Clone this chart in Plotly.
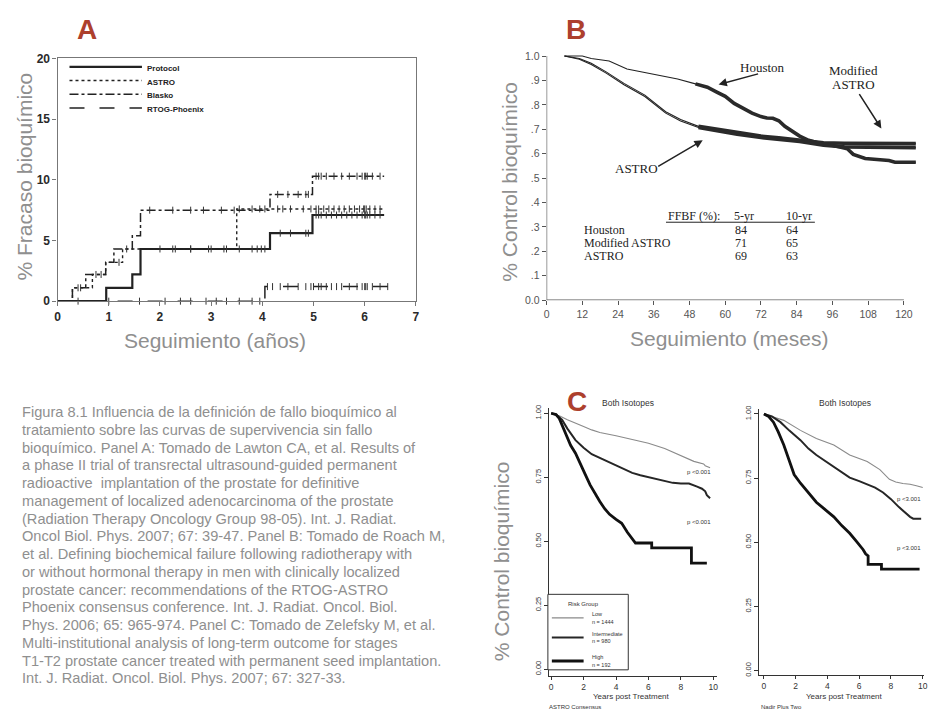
import plotly.graph_objects as go

W, H = 933, 719

def fx(p):
    return p / W

def fy(p):
    return 1 - p / H

# ---------------- Panel A data ----------------
a_protocol_x = [0, 0.95, 1.46, 1.62, 4.15, 4.98, 6.38]
a_protocol_y = [0, 1.1, 2.2, 4.3, 5.6, 7.1, 7.1]
a_astro_x = [0, 0.29, 0.68, 0.94, 1.27, 3.5, 6.38]
a_astro_y = [0, 1.1, 2.2, 3.2, 4.3, 7.6, 7.6]
a_blasko_x = [0, 0.29, 0.55, 0.94, 1.1, 1.46, 1.62, 4.15, 4.98, 6.38]
a_blasko_y = [0, 1.1, 2.2, 3.2, 4.3, 5.4, 7.5, 8.8, 10.3, 10.3]
a_rtog_x = [0, 4.05, 6.55]
a_rtog_y = [0, 1.2, 1.2]

a_protocol_cens = [2.0, 2.25, 2.6, 2.95, 3.25, 3.55, 3.8, 3.9, 3.98, 4.05, 4.35, 4.55, 4.85, 4.9,
                   5.05, 5.1, 5.15, 5.25, 5.35, 5.45, 5.55, 5.65, 5.75, 5.85, 5.95, 6.0, 6.02, 6.05, 6.1, 6.2, 6.3]
a_astro_cens = [0.4, 0.85, 1.2, 2.3, 2.6, 3.0, 3.3, 3.55, 3.8, 3.95, 4.05, 4.3, 4.4, 4.55, 4.8, 4.95,
                5.05, 5.1, 5.2, 5.3, 5.4, 5.5, 5.6, 5.7, 5.8, 5.9, 5.98, 6.0, 6.03, 6.1, 6.2, 6.3]
a_blasko_cens = [0.45, 0.75, 1.35, 1.8, 2.25, 2.6, 2.85, 3.2, 3.45, 4.3, 4.5, 4.7, 4.85, 4.9, 5.05,
                 5.1, 5.15, 5.25, 5.4, 5.55, 5.7, 5.85, 5.95, 6.0, 6.02, 6.05, 6.15, 6.3]
a_rtog_cens = [0.4, 1.0, 1.6, 2.1, 2.4, 2.6, 2.9, 3.1, 3.3, 3.55, 3.8, 3.95, 4.1, 4.2, 4.35, 4.5,
               4.7, 4.85, 4.95, 5.0, 5.1, 5.15, 5.25, 5.35, 5.45, 5.55, 5.7, 5.85, 5.95, 6.0,
               6.02, 6.05, 6.15, 6.3, 6.45]
a_legend = ["Protocol", "ASTRO", "Blasko", "RTOG-Phoenix"]
a_xticks = [0, 1, 2, 3, 4, 5, 6, 7]
a_yticks = [0, 5, 10, 15, 20]

# ---------------- Panel B data ----------------
b_houston_m = [6, 12, 15, 21, 27, 33, 36, 44, 50, 54, 57, 60, 63, 66, 69, 72, 74, 76, 78, 80,
               85, 88, 91, 96, 101, 103, 107, 112, 115, 117, 124]
b_houston_v = [1.0, 1.0, 0.99, 0.98, 0.947, 0.933, 0.926, 0.906, 0.886, 0.872, 0.853, 0.835,
               0.806, 0.785, 0.766, 0.752, 0.746, 0.745, 0.735, 0.712, 0.672, 0.655, 0.645,
               0.635, 0.62, 0.597, 0.58, 0.575, 0.572, 0.565, 0.565]
b_modastro_m = [6, 11, 15, 20, 26, 33, 40, 45, 51, 57, 64, 72, 78, 85, 93, 100, 124]
b_modastro_v = [1.0, 0.99, 0.97, 0.935, 0.888, 0.84, 0.772, 0.74, 0.712, 0.70, 0.686, 0.672,
                0.665, 0.657, 0.645, 0.643, 0.641]
b_astro_m = [6, 11, 15, 20, 26, 33, 40, 45, 51, 57, 64, 72, 78, 85, 93, 100, 124]
b_astro_v = [1.0, 0.987, 0.965, 0.93, 0.882, 0.834, 0.766, 0.734, 0.707, 0.694, 0.68, 0.666,
             0.658, 0.65, 0.635, 0.628, 0.625]
b_xticks = [0, 12, 24, 36, 48, 60, 72, 84, 96, 108, 120]
b_yticks = [0, 0.1, 0.2, 0.3, 0.4, 0.5, 0.6, 0.7, 0.8, 0.9, 1.0]
b_yticktext = ["0.0", ".1", ".2", ".3", ".4", ".5", ".6", ".7", ".8", ".9", "1.0"]
b_table_rows = ["Houston", "Modified ASTRO", "ASTRO"]
b_table_5yr = [84, 71, 69]
b_table_10yr = [64, 65, 63]

# ---------------- Panel C data ----------------
c1_low_x = [0, 0.5, 1, 1.5, 2, 2.5, 3, 4, 5, 6, 7, 7.6, 8, 8.8, 9.4, 9.5, 9.8]
c1_low_y = [1, 0.99, 0.975, 0.96, 0.948, 0.935, 0.925, 0.912, 0.898, 0.883, 0.862, 0.845,
            0.834, 0.812, 0.802, 0.795, 0.787]
c1_int_x = [0, 0.3, 0.67, 1, 1.5, 2, 2.5, 3, 3.5, 4, 4.5, 5, 5.5, 6, 6.5, 7, 7.5, 8, 8.5,
            9, 9.3, 9.5, 9.6, 9.8]
c1_int_y = [1, 0.995, 0.975, 0.94, 0.895, 0.865, 0.84, 0.825, 0.81, 0.795, 0.78, 0.767, 0.758,
            0.75, 0.742, 0.735, 0.728, 0.725, 0.725, 0.713, 0.705, 0.695, 0.68, 0.668]
c1_high_x = [0, 0.3, 0.5, 0.7, 0.9, 1.2, 1.5, 1.8, 2.1, 2.4, 2.7, 3.0, 3.3, 3.6, 4.0, 4.35,
             4.7, 5.0, 5.2, 6.2, 6.2, 8.65, 8.65, 9.6]
c1_high_y = [1, 0.995, 0.98, 0.95, 0.914, 0.875, 0.844, 0.8, 0.761, 0.72, 0.685, 0.655, 0.627,
             0.605, 0.585, 0.57, 0.535, 0.51, 0.493, 0.493, 0.474, 0.474, 0.414, 0.414]

c2_low_x = [0, 0.5, 1.25, 2.3, 3.3, 4.4, 5.4, 6.5, 7.3, 7.9, 8.3, 8.75, 9.2, 9.6, 10]
c2_low_y = [1, 0.99, 0.975, 0.936, 0.904, 0.879, 0.84, 0.815, 0.783, 0.745, 0.735, 0.729,
            0.726, 0.72, 0.713]
c2_int_x = [0, 0.5, 1.04, 1.6, 2.3, 2.8, 3.3, 3.9, 4.4, 4.9, 5.4, 6, 6.5, 7, 7.5, 8, 8.5,
            8.9, 9.2, 9.4, 9.9]
c2_int_y = [1, 0.99, 0.968, 0.935, 0.898, 0.865, 0.84, 0.815, 0.796, 0.772, 0.752, 0.738,
            0.726, 0.713, 0.694, 0.668, 0.637, 0.615, 0.599, 0.592, 0.592]
c2_high_x = [0, 0.3, 0.6, 0.9, 1.25, 1.6, 1.9, 2.3, 2.7, 3.0, 3.3, 3.8, 4.4, 4.9, 5.4, 5.8,
             6.25, 6.4, 6.56, 6.56, 7.4, 7.4, 9.8]
c2_high_y = [1, 0.99, 0.968, 0.93, 0.879, 0.82, 0.764, 0.73, 0.7, 0.675, 0.656, 0.63, 0.599,
             0.565, 0.535, 0.505, 0.471, 0.455, 0.447, 0.414, 0.414, 0.395, 0.395]
c_xticks = [0, 2, 4, 6, 8, 10]
c_yticks = [0, 0.25, 0.5, 0.75, 1.0]
c_yticktext = ["0.00", "0.25", "0.50", "0.75", "1.00"]
c_legend = [("Low", "n = 1444"), ("Intermediate", "n = 980"), ("High", "n = 192")]

caption_lines = [
    "Figura 8.1 Influencia de la definición de fallo bioquímico al",
    "tratamiento sobre las curvas de supervivencia sin fallo",
    "bioquímico. Panel A: Tomado de Lawton CA, et al. Results of",
    "a phase II trial of transrectal ultrasound-guided permanent",
    "radioactive  implantation of the prostate for definitive",
    "management of localized adenocarcinoma of the prostate",
    "(Radiation Therapy Oncology Group 98-05). Int. J. Radiat.",
    "Oncol Biol. Phys. 2007; 67: 39-47. Panel B: Tomado de Roach M,",
    "et al. Defining biochemical failure following radiotherapy with",
    "or without hormonal therapy in men with clinically localized",
    "prostate cancer: recommendations of the RTOG-ASTRO",
    "Phoenix consensus conference. Int. J. Radiat. Oncol. Biol.",
    "Phys. 2006; 65: 965-974. Panel C: Tomado de Zelefsky M, et al.",
    "Multi-institutional analysis of long-term outcome for stages",
    "T1-T2 prostate cancer treated with permanent seed implantation.",
    "Int. J. Radiat. Oncol. Biol. Phys. 2007; 67: 327-33.",
]

# ---------------- styles ----------------
SANS = "Liberation Sans"
SERIF = "Liberation Serif"
RED = "#ad402d"
GRAYTXT = "#8f8f8f"
INK = "#222222"


def step_at(xs, ys, t):
    v = ys[0]
    for xv, yv in zip(xs, ys):
        if xv <= t:
            v = yv
    return v


fig = go.Figure()

# Panel A curves
a_series = [
    (a_protocol_x, a_protocol_y, a_protocol_cens, "solid", 2.2),
    (a_astro_x, a_astro_y, a_astro_cens, "dot", 1.4),
    (a_blasko_x, a_blasko_y, a_blasko_cens, "dashdot", 1.5),
    (a_rtog_x, a_rtog_y, a_rtog_cens, "longdash", 1.5),
]
for xs, ys, cens, dash, w in a_series:
    fig.add_trace(go.Scatter(x=xs, y=ys, mode="lines", line=dict(shape="hv", color=INK, width=w, dash=dash),
                             xaxis="x", yaxis="y", showlegend=False, hoverinfo="skip"))
    fig.add_trace(go.Scatter(x=cens, y=[step_at(xs, ys, t) for t in cens], mode="markers",
                             marker=dict(symbol="line-ns", size=5, line=dict(color="#333", width=1)),
                             xaxis="x", yaxis="y", showlegend=False, hoverinfo="skip", cliponaxis=False))

# Panel B curves (thin full + thick censored part)
b_series = [
    (b_houston_m, b_houston_v, 50),
    (b_modastro_m, b_modastro_v, 51),
    (b_astro_m, b_astro_v, 51),
]
for ms, vs, start in b_series:
    fig.add_trace(go.Scatter(x=ms, y=vs, mode="lines", line=dict(color=INK, width=1.1),
                             xaxis="x2", yaxis="y2", showlegend=False, hoverinfo="skip"))
    sub = [(m, v) for m, v in zip(ms, vs) if m >= start]
    fig.add_trace(go.Scatter(x=[s[0] for s in sub], y=[s[1] for s in sub], mode="lines",
                             line=dict(color="#2a2a2a", width=3.6),
                             xaxis="x2", yaxis="y2", showlegend=False, hoverinfo="skip"))

# Panel C curves
c_styles = [("#8a8a8a", 1.1), ("#262626", 2.0), ("#111111", 2.8)]
for (xs, ys), (col, w) in zip([(c1_low_x, c1_low_y), (c1_int_x, c1_int_y), (c1_high_x, c1_high_y)], c_styles):
    fig.add_trace(go.Scatter(x=xs, y=ys, mode="lines", line=dict(color=col, width=w),
                             xaxis="x3", yaxis="y3", showlegend=False, hoverinfo="skip"))
for (xs, ys), (col, w) in zip([(c2_low_x, c2_low_y), (c2_int_x, c2_int_y), (c2_high_x, c2_high_y)], c_styles):
    fig.add_trace(go.Scatter(x=xs, y=ys, mode="lines", line=dict(color=col, width=w),
                             xaxis="x4", yaxis="y4", showlegend=False, hoverinfo="skip"))

# ---------------- axes ----------------
noline = dict(showgrid=False, zeroline=False)
fig.update_layout(
    xaxis=dict(domain=[fx(55), fx(416)], range=[0, 7], tickvals=a_xticks, anchor="y",
               showline=True, mirror=True, linecolor="#777", linewidth=1.3,
               ticks="outside", ticklen=4, tickcolor="#777",
               tickfont=dict(family=SANS, size=12, color="#2a2a2a", weight="bold"), **noline),
    yaxis=dict(domain=[fy(300), fy(52.5)], range=[0, 20], tickvals=a_yticks, anchor="x",
               showline=True, mirror=True, linecolor="#777", linewidth=1.3,
               ticks="outside", ticklen=4, tickcolor="#777",
               tickfont=dict(family=SANS, size=12, color="#2a2a2a", weight="bold"), **noline),
    xaxis2=dict(domain=[fx(547.7), fx(547.7 + 126 * 3)], range=[0, 126], tickvals=b_xticks,
                anchor="y2", showline=False, ticks="outside", ticklen=4, tickcolor="#555",
                tickfont=dict(family=SANS, size=10.5, color="#555"), **noline),
    yaxis2=dict(domain=[fy(299), fy(299 - 1.02 * 249)], range=[0, 1.02], tickvals=b_yticks,
                ticktext=b_yticktext, anchor="x2", showline=False, ticks="outside", ticklen=4,
                tickcolor="#555", tickfont=dict(family=SANS, size=10.5, color="#555"), **noline),
    xaxis3=dict(domain=[fx(549.85), fx(718.97)], range=[-0.15, 10.2], tickvals=c_xticks,
                anchor="y3", showline=True, linecolor="#333", linewidth=1, ticks="outside",
                ticklen=3, tickcolor="#333", tickfont=dict(family=SANS, size=8.5, color="#333"), **noline),
    yaxis3=dict(domain=[fy(681.8), fy(409.1)], range=[-0.025, 1.02], tickvals=c_yticks,
                ticktext=c_yticktext, tickangle=-90, anchor="x3", showline=True, linecolor="#333",
                linewidth=1, ticks="outside", ticklen=4, tickcolor="#333",
                tickfont=dict(family=SANS, size=7.5, color="#333"), **noline),
    xaxis4=dict(domain=[fx(761.9), fx(928.3)], range=[-0.3, 10.1], tickvals=c_xticks,
                anchor="y4", showline=True, linecolor="#333", linewidth=1, ticks="outside",
                ticklen=3, tickcolor="#333", tickfont=dict(family=SANS, size=8.5, color="#333"), **noline),
    yaxis4=dict(domain=[fy(680.9), fy(409.8)], range=[-0.016, 1.02], tickvals=c_yticks,
                ticktext=c_yticktext, tickangle=-90, anchor="x4", showline=True, linecolor="#333",
                linewidth=1, ticks="outside", ticklen=4, tickcolor="#333",
                tickfont=dict(family=SANS, size=7.5, color="#333"), **noline),
)

shapes = []
annotations = []


def text(x, y, s, size, color=INK, family=SANS, xanchor="center", yanchor="middle", angle=0, weight="normal"):
    annotations.append(dict(x=fx(x), y=fy(y), xref="paper", yref="paper", text=s, showarrow=False,
                            xanchor=xanchor, yanchor=yanchor, textangle=angle,
                            font=dict(family=family, size=size, color=color, weight=weight)))


def hline(x0, x1, y, color=INK, width=1, dash="solid"):
    shapes.append(dict(type="line", xref="paper", yref="paper", x0=fx(x0), x1=fx(x1), y0=fy(y), y1=fy(y),
                       line=dict(color=color, width=width, dash=dash)))


# Panel letters
text(85, 23, "A", 28, RED, weight="bold")
text(577, 23, "B", 28, RED, weight="bold")
text(578, 402, "C", 28, RED, weight="bold")

# Panel A titles and legend
text(22, 173, "% Fracaso bioquímico", 21, GRAYTXT, angle=-90)
text(214, 340, "Seguimiento (años)", 21, GRAYTXT)
a_dashes = ["solid", "dot", "dashdot", "longdash"]
a_widths = [2.2, 1.4, 1.5, 1.5]
for i, (lab, d, w) in enumerate(zip(a_legend, a_dashes, a_widths)):
    yy = 61 + i * 14
    hline(67, 140, yy, INK, w, d)
    text(143, yy + 1.5, lab, 8, INK, xanchor="left", weight="bold")

# Panel B axis lines, titles, annotations
shapes.append(dict(type="line", xref="x2", yref="y2", x0=0, x1=120, y0=0, y1=0, line=dict(color="#555", width=1.2)))
shapes.append(dict(type="line", xref="x2", yref="y2", x0=0, x1=0, y0=0, y1=1.0, line=dict(color="#555", width=1.2)))
text(510, 178, "% Control bioquímico", 21, GRAYTXT, angle=-90)
text(731, 338, "Seguimiento (meses)", 21, GRAYTXT)
text(765, 62, "Houston", 13, INK, family=SERIF)
text(857, 65, "Modified", 13, INK, family=SERIF)
text(857, 79, "ASTRO", 13, INK, family=SERIF)
text(638, 165, "ASTRO", 13, INK, family=SERIF)


def arrow(x0, y0, x1, y1):
    annotations.append(dict(x=fx(x1), y=fy(y1), xref="paper", yref="paper", text="", showarrow=True,
                            ax=x0 - x1, ay=y0 - y1, axref="pixel", ayref="pixel",
                            arrowhead=2, arrowsize=1.1, arrowwidth=1.5, arrowcolor=INK))


arrow(762, 68, 721, 79)
arrow(862, 88, 885, 124)
arrow(659, 163, 705, 136)

# table
text(668, 213, "FFBF (%):", 12, INK, family=SERIF, xanchor="left")
text(747, 213, "5-yr", 12, INK, family=SERIF)
text(802, 213, "10-yr", 12, INK, family=SERIF)
hline(668, 818, 219.5, INK, 1)
for i, (nm, v5, v10) in enumerate(zip(b_table_rows, b_table_5yr, b_table_10yr)):
    yy = 227.5 + i * 13
    text(583, yy, nm, 12, INK, family=SERIF, xanchor="left")
    text(744, yy, str(v5), 12, INK, family=SERIF)
    text(795, yy, str(v10), 12, INK, family=SERIF)

# Panel C texts
text(503, 565, "% Control bioquímico", 21, GRAYTXT, angle=-90)
text(630, 404, "Both Isotopes", 8.5, "#333")
text(848, 404, "Both Isotopes", 8.5, "#333")
text(633, 703.5, "Years post Treatment", 8, "#333")
text(848, 703.5, "Years post Treatment", 8, "#333")
text(548, 713.5, "ASTRO Consensus", 6, "#333", xanchor="left")
text(762, 713.5, "Nadir Plus Two", 6, "#333", xanchor="left")
text(701, 474, "p <0.001", 6, "#333")
text(701, 525, "p <0.001", 6, "#333")
text(913, 502, "p <3.001", 6, "#333")
text(913, 552, "p <3.001", 6, "#333")

# Panel C legend box
shapes.append(dict(type="rect", xref="paper", yref="paper", x0=fx(549), x1=fx(630), y0=fy(676), y1=fy(599),
                   line=dict(color="#333", width=1), fillcolor="white"))
text(585, 609, "Risk Group", 6, "#333")
for (lab, n), (col, w), yy in zip(c_legend, c_styles, [623, 643, 667]):
    hline(553, 585, yy, col, w)
    text(591, yy - 4, lab, 5.5, "#333", xanchor="left")
    text(591, yy + 4, n, 5.5, "#333", xanchor="left")

# caption
for i, line in enumerate(caption_lines):
    text(17, 413.3 + i * 18.1, line, 14.6, GRAYTXT, xanchor="left")

fig.update_layout(
    width=W, height=H, margin=dict(l=0, r=0, t=0, b=0),
    paper_bgcolor="white", plot_bgcolor="rgba(0,0,0,0)",
    shapes=shapes, annotations=annotations, showlegend=False,
)

fig.write_html("out.html", config={"displayModeBar": False},
               post_script="document.body.style.margin='0px';document.body.style.overflow='hidden';")
